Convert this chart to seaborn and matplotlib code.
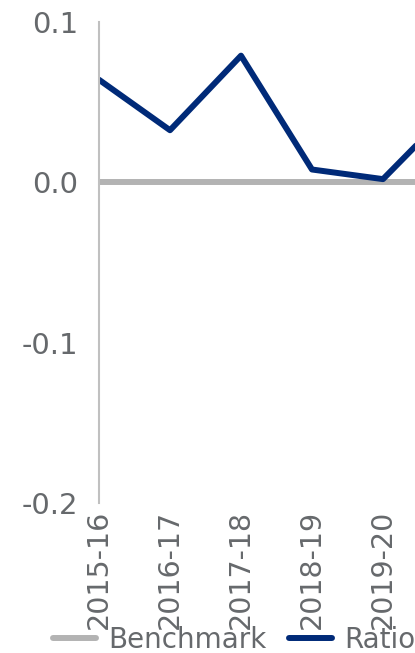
import pandas as pd
import matplotlib.pyplot as plt
import seaborn as sns

# values (chart is cut off on the right)
years = ['2015-16', '2016-17', '2017-18', '2018-19', '2019-20', '2020-21', '2021-22']
ratio = [0.064, 0.0325, 0.079, 0.008, 0.002, 0.047, 0.047]
benchmark = [0.0, 0.0, 0.0, 0.0, 0.0, 0.0, 0.0]

df = pd.DataFrame({
    'Year': years * 2,
    'Value': benchmark + ratio,
    'Series': ['Benchmark'] * len(years) + ['Ratio'] * len(years),
})

sns.set_theme(style='white')
plt.rcParams['font.family'] = ['DejaVu Sans']
text_grey = '#66696c'

fig = plt.figure(figsize=(4.15, 6.53), dpi=100)
# axes deliberately wider than the figure so the right side is cropped like the source
ax = fig.add_axes([99 / 415, 1 - 503 / 653, 6 * 71 / 415, (503 - 22) / 653])

sns.lineplot(data=df, x='Year', y='Value', hue='Series',
             palette={'Benchmark': '#b3b3b3', 'Ratio': '#002a78'},
             linewidth=4.3, ax=ax, legend=False, sort=False)

ax.set_xlim(0, len(years) - 1)
ax.set_ylim(-0.2, 0.1)
ax.set_yticks([-0.2, -0.1, 0.0, 0.1])
ax.set_yticklabels(['-0.2', '-0.1', '0.0', '0.1'])
ax.set_xlabel('')
ax.set_ylabel('')
ax.tick_params(axis='both', length=0, labelsize=21, colors=text_grey)
ax.tick_params(axis='x', rotation=90, pad=5, labelsize=20.5)
ax.tick_params(axis='y', pad=15)
# labels of the years that fall outside the cropped picture
for lab in ax.get_xticklabels()[5:]:
    lab.set_visible(False)

for side in ['top', 'right', 'bottom']:
    ax.spines[side].set_visible(False)
ax.spines['left'].set_color('#c0c0c0')
ax.spines['left'].set_linewidth(1.5)

handles = [plt.Line2D([], [], color='#b3b3b3', linewidth=4.3, solid_capstyle='round'),
           plt.Line2D([], [], color='#002a78', linewidth=4.3, solid_capstyle='round')]
fig.legend(handles, ['Benchmark', 'Ratio'], loc='center left',
           bbox_to_anchor=(53 / 415, 1 - 640 / 653), ncol=2, frameon=False,
           fontsize=20, labelcolor=text_grey, handlelength=1.55, handletextpad=0.45,
           columnspacing=0.8, borderpad=0, borderaxespad=0)

fig.savefig('out.png', dpi=100)
